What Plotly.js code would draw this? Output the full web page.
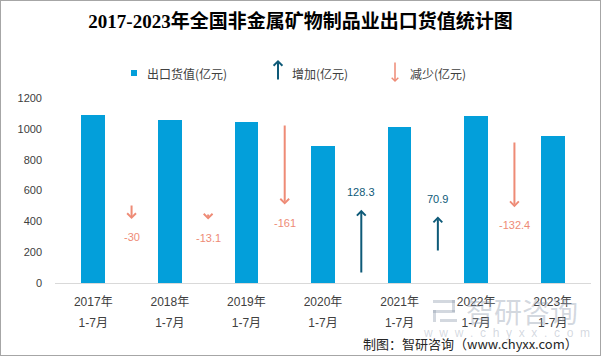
<!DOCTYPE html>
<html><head><meta charset="utf-8">
<script src="https://cdn.plot.ly/plotly-3.0.1.min.js"></script>
<style>
html,body{margin:0;padding:0;background:#fff;}
#wrap{position:relative;width:601px;height:356px;}
#border{position:absolute;left:0;top:0;width:599px;height:354px;border:1px solid #A6A6A6;pointer-events:none;}
</style>
</head><body>
<div id="wrap"><div id="chart" style="width:601px;height:356px"></div><div id="border"></div></div>
<script>
// ---- data ----
const years = ['2017年','2018年','2019年','2020年','2021年','2022年','2023年'];
const periods = ['1-7月','1-7月','1-7月','1-7月','1-7月','1-7月','1-7月'];
const exportValue = [1090, 1060, 1046.9, 885.9, 1014.2, 1085.1, 952.7];
const changeValue = [-30, -13.1, -161, 128.3, 70.9, -132.4];
const changeLabels = ['-30','-13.1','-161','128.3','70.9','-132.4'];
const arrowTail = [158, 140, 318, 18, 62, 284]; // hidden secondary-axis value where each arrow starts

const BAR = '#039FDA', UP = '#0E5A78', DOWN = '#EE8B76';
const FONT = "'Liberation Sans', 'Noto Sans CJK SC', sans-serif";
const CJK = "'Noto Sans CJK SC', 'Liberation Sans', sans-serif";
const WM = 'rgba(140,152,172,0.38)';

// plot-area helpers for layout elements (legend, source, watermark)
const L = 55, R = 10, T = 98, B = 73, W = 601, H = 356;
const pw = W - L - R, ph = H - T - B;
const px = x => (x - L) / pw;
const py = y => (H - B - y) / ph;

const idx = years.map((_, i) => i);
const mid = changeValue.map((_, i) => i + 0.5);
const heads = changeValue.map((v, i) => arrowTail[i] + v);

const traces = [
  {type: 'bar', x: idx, y: exportValue, width: 0.31, marker: {color: BAR},
   hoverinfo: 'skip', showlegend: false},
  {type: 'scatter', mode: 'markers', x: mid, y: heads, xaxis: 'x2', yaxis: 'y2',
   marker: {opacity: 0}, hoverinfo: 'skip', showlegend: false}
];

const ann = [];
changeValue.forEach((v, i) => {
  const c = v >= 0 ? UP : DOWN;
  ann.push({x: mid[i], y: heads[i], xref: 'x', yref: 'y2',
    ax: mid[i], ay: arrowTail[i], axref: 'x', ayref: 'y2',
    showarrow: true, arrowhead: 4, arrowsize: 0.85, arrowwidth: 2, arrowcolor: c,
    standoff: 0, startstandoff: 0, text: ''});
  ann.push({x: mid[i], y: heads[i], xref: 'x', yref: 'y2', showarrow: false,
    text: changeLabels[i], font: {family: FONT, size: 11, color: c},
    yshift: v >= 0 ? 18 : -18, xanchor: 'center', yanchor: 'middle'});
});

// legend
ann.push({x: px(145), y: py(73), xref: 'paper', yref: 'paper', showarrow: false,
  text: '出口货值(亿元)', font: {family: CJK, size: 12, color: '#404040'}, xanchor: 'left', yanchor: 'middle'});
ann.push({x: px(278), y: py(60), xref: 'paper', yref: 'paper', ax: 0, ay: 21,
  showarrow: true, arrowhead: 4, arrowsize: 0.85, arrowwidth: 2, arrowcolor: UP, standoff: 0, text: ''});
ann.push({x: px(290), y: py(73), xref: 'paper', yref: 'paper', showarrow: false,
  text: '增加(亿元)', font: {family: CJK, size: 12, color: '#404040'}, xanchor: 'left', yanchor: 'middle'});
ann.push({x: px(395), y: py(82), xref: 'paper', yref: 'paper', ax: 0, ay: -21,
  showarrow: true, arrowhead: 4, arrowsize: 0.85, arrowwidth: 1.5, arrowcolor: DOWN, standoff: 0, text: ''});
ann.push({x: px(408), y: py(73), xref: 'paper', yref: 'paper', showarrow: false,
  text: '减少(亿元)', font: {family: CJK, size: 12, color: '#404040'}, xanchor: 'left', yanchor: 'middle'});

// watermark
ann.push({x: px(522), y: py(311), xref: 'paper', yref: 'paper', showarrow: false,
  text: '智研咨询', font: {family: CJK, size: 28, color: WM}, xanchor: 'center', yanchor: 'middle'});
ann.push({x: px(506), y: py(333), xref: 'paper', yref: 'paper', showarrow: false,
  text: 'w\u00a0\u00a0w\u00a0\u00a0w\u00a0\u00a0.\u00a0\u00a0c\u00a0\u00a0h\u00a0\u00a0y\u00a0\u00a0x\u00a0\u00a0x\u00a0\u00a0.\u00a0\u00a0c\u00a0\u00a0o\u00a0\u00a0m',
  font: {family: FONT, size: 12, color: WM}, xanchor: 'center', yanchor: 'middle'});

// source
ann.push({x: px(580), y: py(343), xref: 'paper', yref: 'paper', showarrow: false,
  text: '制图：智研咨询（www.chyxx.com）', font: {family: CJK, size: 13, color: '#262626'}, xanchor: 'right', yanchor: 'middle'});

const shapes = [
  {type: 'rect', xref: 'paper', yref: 'paper', x0: px(131), x1: px(137), y0: py(76), y1: py(70),
   fillcolor: BAR, line: {width: 0}},
  // watermark logo blocks
  {type: 'rect', xref: 'paper', yref: 'paper', x0: px(433), x1: px(455), y0: py(303), y1: py(300),
   fillcolor: WM, line: {width: 0}},
  {type: 'rect', xref: 'paper', yref: 'paper', x0: px(452), x1: px(455), y0: py(312), y1: py(300),
   fillcolor: WM, line: {width: 0}},
  {type: 'rect', xref: 'paper', yref: 'paper', x0: px(433), x1: px(455), y0: py(313), y1: py(310),
   fillcolor: WM, line: {width: 0}},
  {type: 'rect', xref: 'paper', yref: 'paper', x0: px(433), x1: px(436), y0: py(322), y1: py(310),
   fillcolor: WM, line: {width: 0}},
  {type: 'rect', xref: 'paper', yref: 'paper', x0: px(440), x1: px(457), y0: py(322), y1: py(319),
   fillcolor: WM, line: {width: 0}}
];

const layout = {
  width: W, height: H,
  margin: {l: L, r: R, t: T, b: B, pad: 0},
  paper_bgcolor: '#fff', plot_bgcolor: '#fff',
  title: {text: '2017-2023年全国非金属矿物制品业出口货值统计图', x: 0.5, xref: 'container',
    y: 1 - 21 / H, yref: 'container', yanchor: 'middle',
    font: {family: "'Liberation Serif', 'Noto Sans CJK SC', serif", size: 19, color: '#000', weight: 'bold'}},
  xaxis: {range: [-0.5, 6.5], tickvals: idx, ticktext: years, showgrid: false, zeroline: false,
    showline: true, linecolor: '#D9D9D9', linewidth: 1, ticks: '', ticklabelstandoff: 8,
    tickfont: {family: FONT, size: 12, color: '#404040'}, fixedrange: true},
  xaxis2: {range: [-0.5, 6.5], overlaying: 'x', anchor: 'y', side: 'bottom', tickvals: idx, ticktext: periods,
    showgrid: false, zeroline: false, showline: false, ticks: '', ticklabelstandoff: 31,
    tickfont: {family: FONT, size: 12, color: '#404040'}},
  yaxis: {range: [0, 1200], dtick: 200, showgrid: false, zeroline: false, showline: false, ticks: '',
    ticklabelstandoff: 12, tickfont: {family: FONT, size: 11, color: '#404040'}},
  yaxis2: {range: [0, 370], overlaying: 'y', side: 'right', visible: false},
  annotations: ann, shapes: shapes,
  showlegend: false, bargap: 0
};
Plotly.newPlot('chart', traces, layout, {displayModeBar: false, staticPlot: true});
</script>
</body></html>
